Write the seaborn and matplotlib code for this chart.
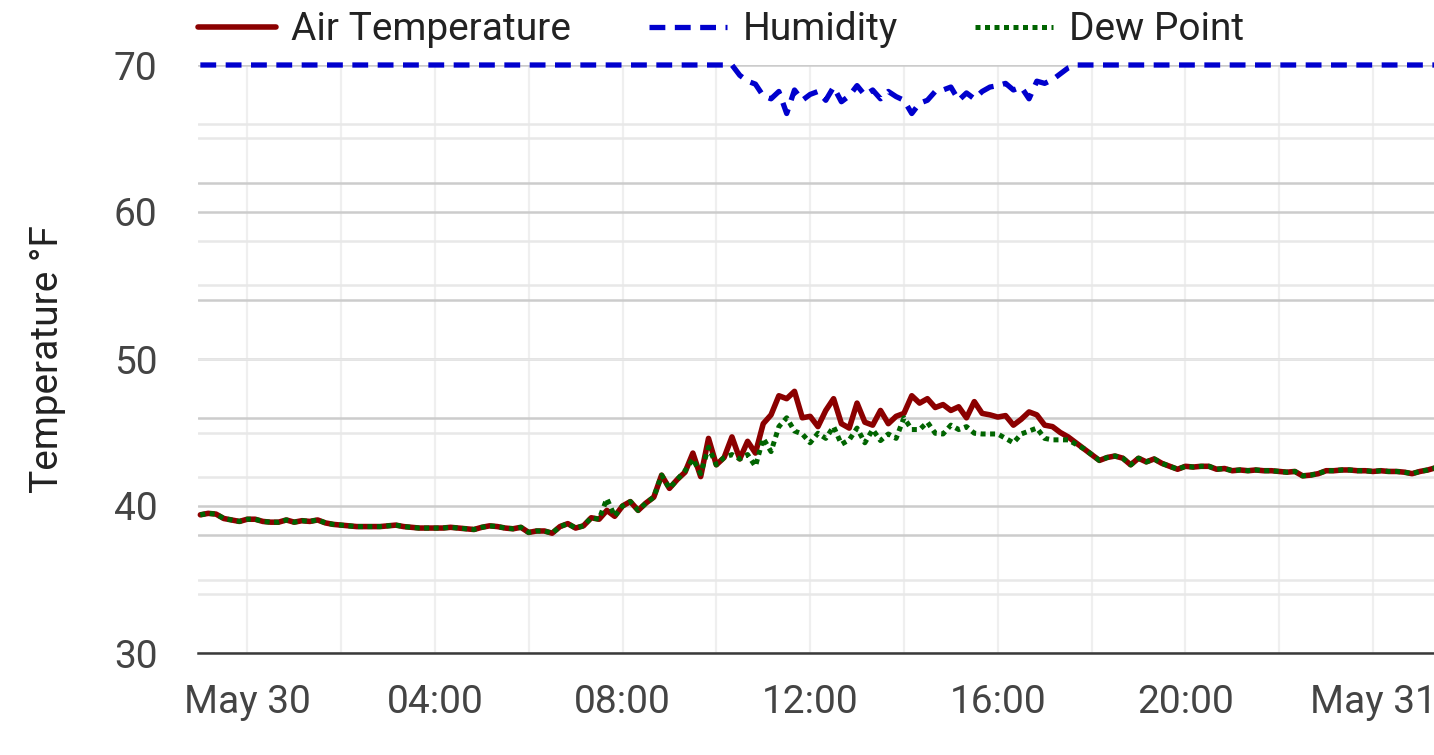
import numpy as np
import pandas as pd
import matplotlib
matplotlib.use("Agg")
import matplotlib.pyplot as plt
import matplotlib.dates as mdates
from matplotlib.ticker import FuncFormatter
import seaborn as sns

# ---------------- data (10-minute readings) ----------------
start_time = "2023-05-29 23:00"
end_time = "2023-05-31 01:20"

air_temperature = [
    39.4, 39.5, 39.45, 39.15, 39.05, 38.95,      # 23h (May 29)
    39.1, 39.1, 38.95, 38.9, 38.9, 39.05,        # 00h
    38.9, 39.0, 38.95, 39.05, 38.85, 38.75,      # 01h
    38.7, 38.65, 38.6, 38.6, 38.6, 38.6,         # 02h
    38.65, 38.7, 38.6, 38.55, 38.5, 38.5,        # 03h
    38.5, 38.5, 38.55, 38.5, 38.45, 38.4,        # 04h
    38.55, 38.65, 38.6, 38.5, 38.45, 38.55,      # 05h
    38.2, 38.3, 38.3, 38.15, 38.6, 38.8,         # 06h
    38.5, 38.65, 39.2, 39.1, 39.7, 39.3,         # 07h
    40.0, 40.3, 39.7, 40.2, 40.6, 42.1,          # 08h
    41.2, 41.8, 42.3, 43.6, 42.0, 44.6,          # 09h
    42.8, 43.3, 44.7, 43.2, 44.4, 43.6,          # 10h
    45.6, 46.2, 47.5, 47.3, 47.8, 46.0,          # 11h
    46.1, 45.4, 46.5, 47.3, 45.6, 45.3,          # 12h
    47.0, 45.7, 45.5, 46.5, 45.6, 46.1,          # 13h
    46.3, 47.5, 47.0, 47.3, 46.7, 46.9,          # 14h
    46.5, 46.75, 46.0, 47.1, 46.3, 46.2,         # 15h
    46.05, 46.15, 45.5, 45.9, 46.4, 46.2,        # 16h
    45.5, 45.4, 45.0, 44.7, 44.3, 43.9,          # 17h
    43.5, 43.1, 43.3, 43.4, 43.25, 42.8,         # 18h
    43.25, 43.0, 43.2, 42.9, 42.7, 42.5,         # 19h
    42.7, 42.65, 42.7, 42.7, 42.5, 42.55,        # 20h
    42.4, 42.45, 42.4, 42.45, 42.4, 42.4,        # 21h
    42.35, 42.3, 42.35, 42.05, 42.1, 42.2,       # 22h
    42.4, 42.4, 42.45, 42.45, 42.4, 42.4,        # 23h
    42.35, 42.4, 42.35, 42.35, 42.3, 42.2,       # 00h (May 31)
    42.35, 42.45, 42.6,                          # 01h
]

dew_point = [
    39.4, 39.5, 39.45, 39.15, 39.05, 38.95,
    39.1, 39.1, 38.95, 38.9, 38.9, 39.05,
    38.9, 39.0, 38.95, 39.05, 38.85, 38.75,
    38.7, 38.65, 38.6, 38.6, 38.6, 38.6,
    38.65, 38.7, 38.6, 38.55, 38.5, 38.5,
    38.5, 38.5, 38.55, 38.5, 38.45, 38.4,
    38.55, 38.65, 38.6, 38.5, 38.45, 38.55,
    38.2, 38.3, 38.3, 38.15, 38.6, 38.8,
    38.5, 38.65, 39.2, 39.1, 40.5, 39.3,
    40.0, 40.3, 39.7, 40.2, 40.6, 42.1,
    41.2, 41.8, 42.4, 43.2, 42.2, 44.0,
    42.8, 43.3, 43.5, 43.2, 43.5, 42.7,
    44.6, 43.7, 45.4, 46.0, 45.1, 44.9,
    44.3, 44.95, 44.6, 45.4, 44.2, 44.5,
    45.3, 44.3, 45.2, 44.45, 44.9, 44.6,
    46.0, 45.2, 45.2, 45.7, 44.95, 44.9,
    45.5, 45.2, 45.4, 44.95, 44.9, 44.9,
    44.9, 44.6, 44.3, 44.9, 45.1, 45.3,
    44.6, 44.5, 44.5, 44.5, 44.2, 43.9,
    43.5, 43.1, 43.3, 43.4, 43.25, 42.8,
    43.25, 43.0, 43.2, 42.9, 42.7, 42.5,
    42.7, 42.65, 42.7, 42.7, 42.5, 42.55,
    42.4, 42.45, 42.4, 42.45, 42.4, 42.4,
    42.35, 42.3, 42.35, 42.05, 42.1, 42.2,
    42.4, 42.4, 42.45, 42.45, 42.4, 42.4,
    42.35, 42.4, 42.35, 42.35, 42.3, 42.2,
    42.35, 42.45, 42.6,
]

humidity = [
    70, 70, 70, 70, 70, 70,                       # 23h
    70, 70, 70, 70, 70, 70,                       # 00h
    70, 70, 70, 70, 70, 70,                       # 01h
    70, 70, 70, 70, 70, 70,                       # 02h
    70, 70, 70, 70, 70, 70,                       # 03h
    70, 70, 70, 70, 70, 70,                       # 04h
    70, 70, 70, 70, 70, 70,                       # 05h
    70, 70, 70, 70, 70, 70,                       # 06h
    70, 70, 70, 70, 70, 70,                       # 07h
    70, 70, 70, 70, 70, 70,                       # 08h
    70, 70, 70, 70, 70, 70,                       # 09h
    70, 70, 70, 69.3, 68.9, 68.7,                 # 10h
    67.9, 67.7, 68.2, 66.7, 68.3, 67.6,           # 11h
    68.0, 68.2, 67.6, 68.5, 67.5, 67.9,           # 12h
    68.6, 67.95, 68.3, 67.7, 68.2, 67.85,         # 13h
    67.6, 66.7, 67.4, 67.6, 68.2, 68.3,           # 14h
    68.5, 67.6, 68.1, 67.7, 68.2, 68.5,           # 15h
    68.6, 68.75, 68.3, 68.5, 67.7, 68.9,          # 16h
    68.75, 69.0, 69.4, 69.8, 70, 70,              # 17h
    70, 70, 70, 70, 70, 70,                       # 18h
    70, 70, 70, 70, 70, 70,                       # 19h
    70, 70, 70, 70, 70, 70,                       # 20h
    70, 70, 70, 70, 70, 70,                       # 21h
    70, 70, 70, 70, 70, 70,                       # 22h
    70, 70, 70, 70, 70, 70,                       # 23h
    70, 70, 70, 70, 70, 70,                       # 00h (May 31)
    70, 70, 70,                                   # 01h
]

y_ticks = [30, 40, 50, 60, 70]
y_minor_ticks = [35, 45, 55, 65]
y2_ticks = [38, 46, 54, 62]
y2_minor_ticks = [34, 42, 50, 58, 66]
series_labels = ["Air Temperature", "Humidity", "Dew Point"]

times = pd.date_range(start_time, end_time, freq="10min")
df = pd.DataFrame({"time": times, "air": air_temperature,
                   "humidity": humidity, "dew": dew_point})

# ---------------- style ----------------
sns.set_theme(style="white")
plt.rcParams["font.family"] = ["Roboto", "DejaVu Sans"]

W, H = 1434, 755
fig = plt.figure(figsize=(W / 100, H / 100), dpi=100)
left, right, top, bottom = 198, 1434, 65, 653
ax1 = fig.add_axes([left / W, 1 - bottom / H, (right - left) / W, (bottom - top) / H])
ax2 = ax1.twinx()

xmin = pd.Timestamp("2023-05-29 22:57")
xmax = pd.Timestamp("2023-05-31 01:18")
ax1.set_xlim(xmin, xmax)

# data on the top (twin) axes
sns.lineplot(data=df, x="time", y="air", ax=ax2, color="#8b0000", lw=4.0,
             label=series_labels[0], clip_on=False)
sns.lineplot(data=df, x="time", y="humidity", ax=ax2, color="#0000cd", lw=3.8,
             linestyle=(0, (3.0, 1.8)), label=series_labels[1], clip_on=False)
sns.lineplot(data=df, x="time", y="dew", ax=ax2, color="#006400", lw=3.6,
             linestyle=(0, (1, 0.9)), label=series_labels[2], clip_on=False)
ax2.set_xlim(xmin, xmax)

for ax in (ax1, ax2):
    ax.set_ylim(30, 70)
    for s in ax.spines.values():
        s.set_visible(False)

# primary grid
ax1.set_yticks(y_ticks)
ax1.set_yticks(y_minor_ticks, minor=True)
ax1.xaxis.set_major_locator(mdates.HourLocator(byhour=[0, 4, 8, 12, 16, 20]))
ax1.xaxis.set_minor_locator(mdates.HourLocator(byhour=list(range(0, 24, 2))))


def fmt(x, pos):
    d = mdates.num2date(x)
    if d.hour == 0:
        return f"{d:%b} {d.day}"
    return f"{d:%H:%M}"


ax1.xaxis.set_major_formatter(FuncFormatter(fmt))
ax1.grid(True, axis="x", which="both", color="#efefef", lw=1.6)
ax1.grid(True, axis="y", which="major", color="#cccccc", lw=1.8)
ax1.grid(True, axis="y", which="minor", color="#e8e8e8", lw=1.8)
ax1.spines["bottom"].set_visible(True)
ax1.spines["bottom"].set_color("#3a3a3a")
ax1.spines["bottom"].set_linewidth(1.8)
ax1.tick_params(axis="both", which="both", length=0)
ax1.tick_params(axis="y", labelsize=28, labelcolor="#444444", pad=29)
ax1.tick_params(axis="x", labelsize=28, labelcolor="#444444", pad=22)
ax1.set_xlabel("")
ax1.set_ylabel("Temperature °F", fontsize=28, color="#222222")
ax1.yaxis.label.set_va("center")
ax1.yaxis.set_label_coords((47 - left) / (right - left), 0.5)

# secondary grid (drawn above primary grid, below data)
ax2.set_yticks(y2_ticks)
ax2.set_yticks(y2_minor_ticks, minor=True)
ax2.grid(False, axis="x", which="both")
ax2.grid(True, axis="y", which="major", color="#cccccc", lw=1.8)
ax2.grid(True, axis="y", which="minor", color="#e8e8e8", lw=1.8)
ax2.set_axisbelow(True)
ax2.tick_params(axis="y", which="both", length=0, labelright=False, labelleft=False)
ax2.tick_params(axis="x", which="both", length=0, labelbottom=False)
ax2.set_xlabel("")
ax2.set_ylabel("")

handles, labels = ax2.get_legend_handles_labels()
ax2.get_legend().remove()
leg = fig.legend(handles, labels, loc="center left",
                 bbox_to_anchor=(left / W, 1 - 30 / H), ncol=3, frameon=False,
                 fontsize=28, handlelength=2.0, handletextpad=0.4,
                 columnspacing=2.0, borderpad=0, borderaxespad=0)
for t in leg.get_texts():
    t.set_color("#222222")

fig.savefig("out.png", dpi=100)
